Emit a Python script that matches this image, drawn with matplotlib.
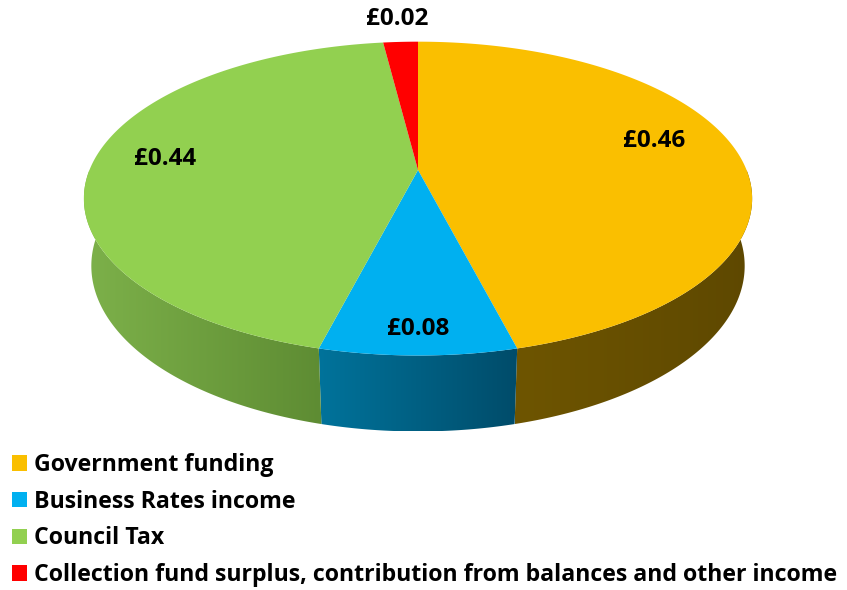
import numpy as np
import matplotlib.pyplot as plt
from matplotlib.patches import Polygon, Patch
from matplotlib.colors import to_rgb

# data
labels = ["Government funding", "Business Rates income", "Council Tax",
          "Collection fund surplus, contribution from balances and other income"]
values = [0.46, 0.08, 0.44, 0.02]
value_text = ["£0.46", "£0.08", "£0.44", "£0.02"]
top_colors = ["#FABF00", "#00B0F0", "#92D050", "#FF0000"]
side_colors = [("#6e5500", "#5e4800"), ("#00739b", "#004c6a"),
               ("#7db14a", "#5e8c33"), ("#c00000", "#900000")]
# label placement: radius and angle offset from the wedge middle
label_radius = [0.77, 0.88, 0.785, 1.22]
label_shift = [7.5, 0.0, -1.8, 0.0]

plt.rcParams['font.family'] = ['Open Sans', 'DejaVu Sans']

# perspective camera
phi = np.radians(27.5)
s, c = np.sin(phi), np.cos(phi)
D = 4.87
K = 1600.0
CX, CY = 418.0, 170.0
H = 0.233

def project(x, y, z):
    d = -(y - D * s) * s - (z - D * c) * c
    v = (y - D * s) * c - (z - D * c) * s
    return CX + K * x / d, CY - K * v / d

def arc(t0, t1, y, n=200):
    t = np.radians(np.linspace(t0, t1, n))
    return project(np.cos(t), y, -np.sin(t))

fig = plt.figure(figsize=(8.47, 5.9), dpi=100)
ax = fig.add_axes([0, 0, 1, 1])
ax.set_xlim(0, 847)
ax.set_ylim(590, 0)
ax.axis('off')

fr = np.array(values) / sum(values)
ends = 90 - 360 * np.cumsum(fr)
starts = np.concatenate([[90], ends[:-1]])

# side walls (front half only)
for i in range(len(values)):
    a, b = starts[i], ends[i]
    lo, hi = max(b, -180), min(a, 0)
    if lo >= hi:
        continue
    xt, yt = arc(hi, lo, 0)
    xb, yb = arc(lo, hi, -H)
    px = np.concatenate([xt, xb])
    py = np.concatenate([yt, yb])
    poly = Polygon(np.column_stack([px, py]), closed=True, facecolor='none', edgecolor='none')
    ax.add_patch(poly)
    c0, c1 = np.array(to_rgb(side_colors[i][0])), np.array(to_rgb(side_colors[i][1]))
    g = np.linspace(0, 1, 256)[:, None]
    img = (c0[None, :] * (1 - g) + c1[None, :] * g)[None, :, :]
    im = ax.imshow(img, extent=[px.min(), px.max(), py.max(), py.min()],
                   aspect='auto', zorder=1, interpolation='bilinear')
    im.set_clip_path(poly)

# top wedges
for i in range(len(values)):
    xt, yt = arc(starts[i], ends[i], 0)
    px = np.concatenate([[CX], xt])
    py = np.concatenate([[CY], yt])
    ax.add_patch(Polygon(np.column_stack([px, py]), closed=True,
                         facecolor=top_colors[i], edgecolor='none', zorder=2))

# value labels
for i in range(len(values)):
    mid = np.radians((starts[i] + ends[i]) / 2 + label_shift[i])
    r = label_radius[i]
    lx, ly = project(r * np.cos(mid), 0, -r * np.sin(mid))
    ax.text(lx, ly, value_text[i], ha='center', va='center', fontsize=17.5,
            fontweight='bold', color='black', zorder=3)

handles = [Patch(facecolor=col, edgecolor='none') for col in top_colors]
fig.legend(handles, labels, loc='upper left', bbox_to_anchor=(5 / 847, 1 - 446 / 590),
           frameon=False, prop={'weight': 'bold', 'size': 16.7},
           handlelength=0.65, handleheight=0.65, handletextpad=0.3,
           labelspacing=0.55, borderaxespad=0.0, borderpad=0.3)

fig.savefig("out.png", dpi=100)
